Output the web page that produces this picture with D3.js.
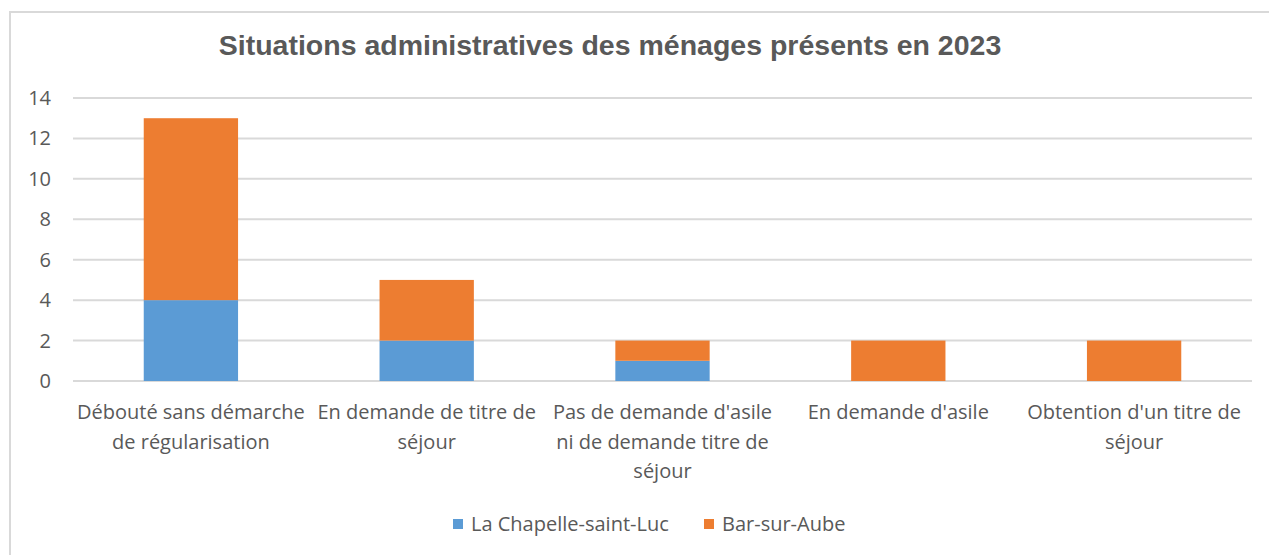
<!DOCTYPE html>
<html lang="fr">
<head>
  <meta charset="UTF-8">
  <title>Situations administratives</title>
  <style>
    html, body {
      margin: 0;
      padding: 0;
      background-color: #fff;
    }

    .frame {
      fill: none;
      stroke: rgb(217, 217, 217);
      stroke-width: 2;
    }

    .grid line {
      stroke: rgb(217, 217, 217);
      stroke-width: 2;
    }

    .title {
      font-family: "Liberation Sans", Arial, sans-serif;
      font-weight: bold;
      font-size: 28.5px;
      fill: #595959;
    }

    .label {
      font-family: "Open Sans", "Noto Sans", sans-serif;
      font-size: 20px;
      fill: #595959;
    }
  </style>
</head>
<body>
  <script src="https://d3js.org/d3.v7.min.js"></script>
  <script>
    const width = 1269,
          height = 555

    const categories = [
      'Débouté sans démarche\nde régularisation',
      'En demande de titre de\nséjour',
      "Pas de demande d'asile\nni de demande titre de\nséjour",
      "En demande d'asile",
      "Obtention d'un titre de\nséjour"
    ]
    const seriesNames = ['La Chapelle-saint-Luc', 'Bar-sur-Aube']
    const chapelle = [4, 2, 1, 0, 0]
    const barSurAube = [9, 3, 1, 2, 2]
    const yTicks = [0, 2, 4, 6, 8, 10, 12, 14]
    const colors = ['#5B9BD5', '#ED7D31']

    const plot = { left: 73, right: 1252, top: 98, bottom: 381 }

    const rows = categories.map((c, i) => ({ cat: c, chapelle: chapelle[i], bar: barSurAube[i] }))
    const stacked = d3.stack().keys(['chapelle', 'bar'])(rows)

    const x = d3.scaleBand()
      .domain(categories)
      .range([plot.left, plot.right])
      .paddingInner(0.6)
      .paddingOuter(0.3)

    const y = d3.scaleLinear()
      .domain([0, 14])
      .range([plot.bottom, plot.top])

    const svg = d3.select('body')
      .append('svg')
      .attr('width', width)
      .attr('height', height)

    // chart frame (right/bottom edges fall outside the picture)
    svg.append('rect')
      .attr('class', 'frame')
      .attr('x', 10)
      .attr('y', 12)
      .attr('width', 1280)
      .attr('height', 600)

    svg.append('text')
      .attr('class', 'title')
      .attr('x', 610)
      .attr('y', 55)
      .attr('text-anchor', 'middle')
      .text('Situations administratives des ménages présents en 2023')

    svg.append('g')
      .attr('class', 'grid')
      .selectAll('line')
      .data(yTicks)
      .join('line')
      .attr('x1', plot.left)
      .attr('x2', plot.right)
      .attr('y1', d => y(d))
      .attr('y2', d => y(d))

    svg.append('g')
      .selectAll('text')
      .data(yTicks)
      .join('text')
      .attr('class', 'label')
      .attr('x', 51)
      .attr('y', d => y(d))
      .attr('dy', '0.35em')
      .attr('text-anchor', 'end')
      .text(d => d)

    svg.append('g')
      .selectAll('g')
      .data(stacked)
      .join('g')
      .attr('fill', (d, i) => colors[i])
      .selectAll('rect')
      .data(d => d)
      .join('rect')
      .attr('x', d => x(d.data.cat))
      .attr('width', x.bandwidth())
      .attr('y', d => y(d[1]))
      .attr('height', d => y(d[0]) - y(d[1]))

    // category labels, one tspan per line
    const xLabels = svg.append('g')
      .selectAll('text')
      .data(categories)
      .join('text')
      .attr('class', 'label')
      .attr('text-anchor', 'middle')
      .attr('y', 419)

    xLabels.selectAll('tspan')
      .data(d => d.split('\n').map(line => ({ line, cx: x(d) + x.bandwidth() / 2 })))
      .join('tspan')
      .attr('x', d => d.cx)
      .attr('dy', (d, i) => i === 0 ? 0 : 29.5)
      .text(d => d.line)

    const legend = svg.append('g')
      .selectAll('g')
      .data(seriesNames)
      .join('g')
      .attr('transform', (d, i) => `translate(${[453, 704][i]}, 519)`)

    legend.append('rect')
      .attr('width', 10)
      .attr('height', 10)
      .attr('fill', (d, i) => colors[i])

    legend.append('text')
      .attr('class', 'label')
      .attr('x', 18)
      .attr('y', 5)
      .attr('dy', '0.35em')
      .text(d => d)
  </script>
</body>
</html>
